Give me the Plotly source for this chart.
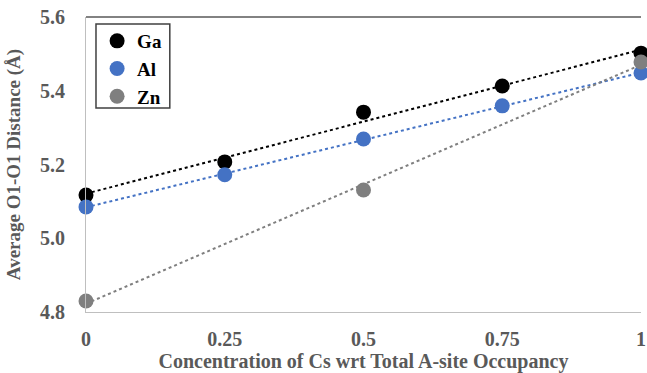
import numpy as np
import plotly.graph_objects as go

conc = [0, 0.25, 0.5, 0.75, 1]
ga = [5.117, 5.207, 5.342, 5.413, 5.502]
al = [5.085, 5.172, 5.269, 5.359, 5.448]
zn_conc = [0, 0.5, 1]
zn = [4.830, 5.131, 5.478]

x_ticks = [0, 0.25, 0.5, 0.75, 1]
x_tick_labels = ["0", "0.25", "0.5", "0.75", "1"]
y_ticks = [4.8, 5.0, 5.2, 5.4, 5.6]
y_tick_labels = ["4.8", "5.0", "5.2", "5.4", "5.6"]

series = [
    ("Ga", conc, ga, "#000000"),
    ("Al", conc, al, "#4472C4"),
    ("Zn", zn_conc, zn, "#7F7F7F"),
]

fig = go.Figure()
# linear trendlines (least-squares fit of each series)
for name, xs, ys, col in series:
    p = np.polyfit(xs, ys, 1)
    xl = [0, 1]
    yl = [p[1] + p[0] * v for v in xl]
    fig.add_trace(go.Scatter(x=xl, y=yl, mode="lines", showlegend=False,
                             line=dict(color=col, width=2, dash="dot"),
                             hoverinfo="skip", cliponaxis=False))
for name, xs, ys, col in series:
    fig.add_trace(go.Scatter(x=xs, y=ys, mode="markers", name="<b>" + name + "</b>",
                             marker=dict(color=col, size=15), cliponaxis=False))

font_family = "Liberation Serif"
fig.update_layout(
    width=647, height=373,
    margin=dict(l=86, r=6, t=17, b=61),
    paper_bgcolor="white", plot_bgcolor="white",
    font=dict(family=font_family, color="#595959"),
    showlegend=True,
    legend=dict(x=0.02, y=0.983, xanchor="left", yanchor="top",
                borderwidth=0, bgcolor="rgba(0,0,0,0)",
                font=dict(family=font_family, size=19, color="#000000")),
    xaxis=dict(range=[0, 1], tickvals=x_ticks, ticktext=x_tick_labels,
               showgrid=False, zeroline=False, showline=True, linecolor="#BFBFBF",
               linewidth=1, ticks="outside", ticklen=9, tickcolor="rgba(0,0,0,0)",
               ticklabeloverflow="allow", automargin=False,
               tickfont=dict(size=20, family=font_family, color="#595959", weight="bold"),
               title=dict(text="<b>Concentration of Cs wrt Total A-site Occupancy</b>",
                          font=dict(size=20, family=font_family, color="#595959"), standoff=2)),
    yaxis=dict(range=[4.8, 5.6], tickvals=y_ticks, ticktext=y_tick_labels,
               showgrid=False, zeroline=False, showline=True, linecolor="#BFBFBF",
               linewidth=1, ticks="outside", ticklen=16, tickcolor="rgba(0,0,0,0)",
               automargin=False,
               tickfont=dict(size=20, family=font_family, color="#595959", weight="bold"),
               title=dict(text="<b>Average O1-O1 Distance (Å)</b>",
                          font=dict(size=19, family=font_family, color="#595959"), standoff=14)),
    shapes=[
        dict(type="line", xref="paper", yref="paper", x0=0, x1=1, y0=1, y1=1,
             line=dict(color="#595959", width=1.5)),
        dict(type="rect", xref="paper", yref="paper", x0=0.018, x1=0.151, y0=0.6915, y1=0.976,
             line=dict(color="#404040", width=1.5), fillcolor="rgba(0,0,0,0)", layer="above"),
    ],
)

fig.write_html("out.html", config={"displayModeBar": False},
               post_script="document.body.style.margin='0';")
